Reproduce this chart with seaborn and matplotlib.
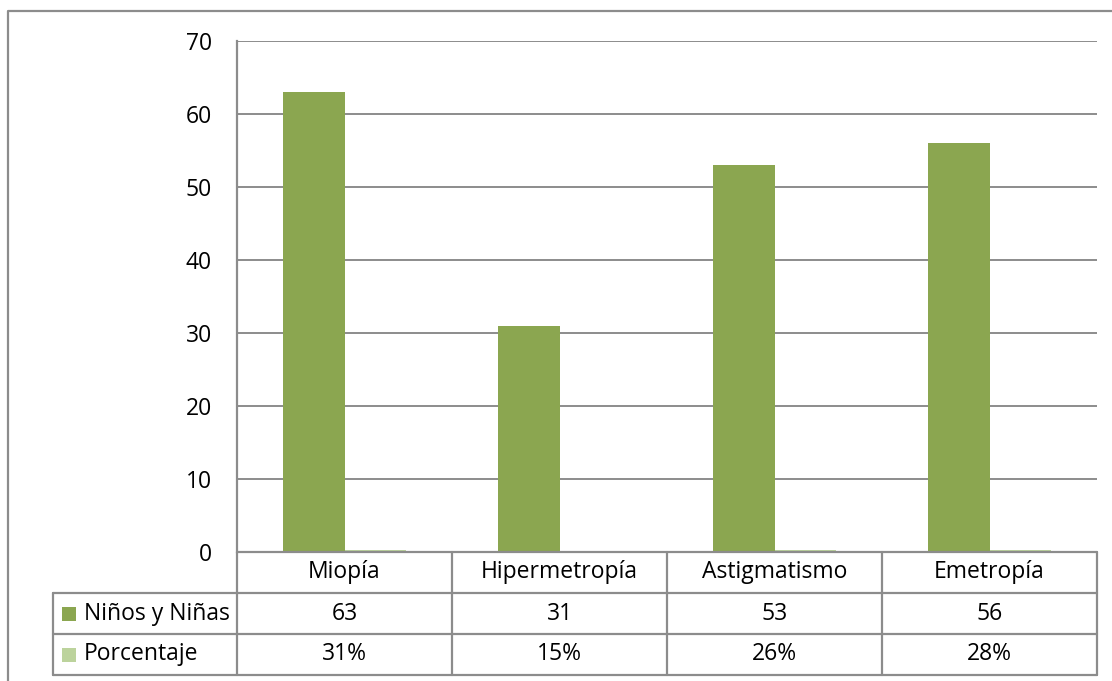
import matplotlib
matplotlib.use("Agg")
import matplotlib.pyplot as plt
from matplotlib.lines import Line2D
from matplotlib.patches import Rectangle
import seaborn as sns
import pandas as pd

# Data
categories = ["Miopía", "Hipermetropía", "Astigmatismo", "Emetropía"]
series_names = ["Niños y Niñas", "Porcentaje"]
ninos = [63, 31, 53, 56]
porcentaje = [0.31, 0.15, 0.26, 0.28]
porcentaje_labels = ["31%", "15%", "26%", "28%"]
y_ticks = [0, 10, 20, 30, 40, 50, 60, 70]

colors = ["#8BA650", "#BCD39C"]
grid_color = "#8C8C8C"
text_color = "#000000"

sns.set_theme(style="white")
plt.rcParams["font.family"] = ["Open Sans", "DejaVu Sans"]

df = pd.DataFrame({
    "categoria": categories * 2,
    "serie": [series_names[0]] * 4 + [series_names[1]] * 4,
    "valor": ninos + porcentaje,
})

W, H = 1112, 681
fig = plt.figure(figsize=(W / 100, H / 100), dpi=100)
fig.patch.set_facecolor("white")

ax_left, ax_right = 237, 1097
ax_top, ax_bottom = 41, 552
ax = fig.add_axes([ax_left / W, 1 - ax_bottom / H,
                   (ax_right - ax_left) / W, (ax_bottom - ax_top) / H])

sns.barplot(data=df, x="categoria", y="valor", hue="serie",
            palette=colors, width=0.576, gap=0, saturation=1,
            order=categories, hue_order=series_names, legend=False,
            edgecolor="none", linewidth=0, ax=ax)

fs = 16.5

ax.set_xlim(-0.5, 3.5)
ax.set_ylim(0, 70)
ax.set_yticks(y_ticks)
ax.set_yticklabels([str(v) for v in y_ticks], fontsize=fs, color=text_color)
ax.tick_params(axis="y", length=0, pad=18)
ax.set_xticks([])
ax.set_xlabel("")
ax.set_ylabel("")
for s in ["top", "right", "bottom"]:
    ax.spines[s].set_visible(False)
ax.spines["left"].set_color(grid_color)
ax.spines["left"].set_linewidth(1.6)
ax.yaxis.grid(True, color=grid_color, linewidth=1.4)
ax.set_axisbelow(True)

# Data table under the plot, in pixel coordinates of the figure
def fx(px):
    return px / W

def fy(py):
    return 1 - py / H

col_edges = [ax_left + i * (ax_right - ax_left) / 4 for i in range(5)]
row_edges = [552, 593, 634, 675]
table_left = 53
lw = 1.6

def hline(x0, x1, y):
    fig.add_artist(Line2D([fx(x0), fx(x1)], [fy(y), fy(y)],
                          color=grid_color, linewidth=lw))

def vline(x, y0, y1):
    fig.add_artist(Line2D([fx(x), fx(x)], [fy(y0), fy(y1)],
                          color=grid_color, linewidth=lw))

hline(ax_left, ax_right, row_edges[0])
for y in row_edges[1:]:
    hline(table_left, ax_right, y)
for x in col_edges:
    vline(x, row_edges[0], row_edges[-1])
vline(table_left, row_edges[1], row_edges[-1])

for i, cat in enumerate(categories):
    cx = (col_edges[i] + col_edges[i + 1]) / 2
    fig.text(fx(cx), fy((row_edges[0] + row_edges[1]) / 2), cat,
             ha="center", va="center", fontsize=fs, color=text_color)
    fig.text(fx(cx), fy((row_edges[1] + row_edges[2]) / 2), str(ninos[i]),
             ha="center", va="center", fontsize=fs, color=text_color)
    fig.text(fx(cx), fy((row_edges[2] + row_edges[3]) / 2), porcentaje_labels[i],
             ha="center", va="center", fontsize=fs, color=text_color)

for r, name in enumerate(series_names):
    yc = (row_edges[r + 1] + row_edges[r + 2]) / 2
    sq = 14
    fig.add_artist(Rectangle((fx(62), fy(yc + sq / 2)), sq / W, sq / H,
                             facecolor=colors[r], edgecolor="none",
                             transform=fig.transFigure))
    fig.text(fx(84), fy(yc), name, ha="left", va="center",
             fontsize=fs, color=text_color)

# Chart area border
fig.add_artist(Line2D([fx(8), fx(8), fx(W + 5)], [fy(H + 5), fy(11), fy(11)],
                      color=grid_color, linewidth=1.6))

fig.savefig("out.png", dpi=100, facecolor="white")
